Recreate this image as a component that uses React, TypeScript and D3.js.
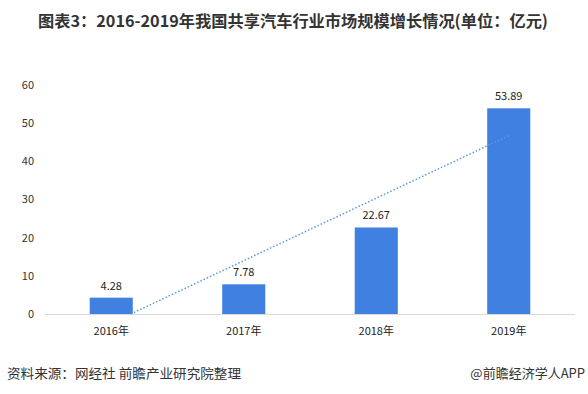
import React from "react";
import * as d3 from "d3";

const categories = ["2016年", "2017年", "2018年", "2019年"];
const values = [4.28, 7.78, 22.67, 53.89];
const yTicks = [0, 10, 20, 30, 40, 50, 60];
const title = "图表3：2016-2019年我国共享汽车行业市场规模增长情况(单位：亿元)";
const source = "资料来源：网经社 前瞻产业研究院整理";
const brand = "@前瞻经济学人APP";

const W = 588, H = 394;
const FONT = "'Noto Sans CJK SC', 'Microsoft YaHei', sans-serif";

export default function App() {
  const left = 45, right = 575, top = 85, bottom = 314;
  const x = d3.scaleBand<string>().domain(categories).range([left, right]).paddingInner(0.675).paddingOuter(0.3375);
  const y = d3.scaleLinear().domain([0, 60]).range([bottom, top]);

  // linear trendline (least squares over index 1..n)
  const n = values.length;
  const xs = values.map((_, i) => i + 1);
  const mx = d3.mean(xs)!, my = d3.mean(values)!;
  const slope = d3.sum(xs.map((xi, i) => (xi - mx) * (values[i] - my))) / d3.sum(xs.map((xi) => (xi - mx) ** 2));
  const icpt = my - slope * mx;
  const cx = (i: number) => x(categories[0])! + x.bandwidth() / 2 + (i - 1) * x.step();
  const t0 = Math.max(1, -icpt / slope);
  const p0 = [cx(t0), y(slope * t0 + icpt)];
  const p1 = [cx(n), y(slope * n + icpt)];

  return (
    <svg width={W} height={H} style={{ position: "absolute", left: 0, top: 0, background: "#fff" }} fontFamily={FONT}>
      <rect width={W} height={H} fill="#fff" />
      <text x={293} y={27} textAnchor="middle" fontSize={16} fontWeight="bold" fill="#333" textLength={510} lengthAdjust="spacingAndGlyphs">{title}</text>
      <line x1={left} x2={right} y1={bottom + 0.5} y2={bottom + 0.5} stroke="#d9d9d9" strokeWidth={1} />
      {yTicks.map((t) => (
        <text key={t} x={34} y={y(t)} dy="0.35em" textAnchor="end" fontSize={11} fill="#333">{t}</text>
      ))}
      {categories.map((c, i) => (
        <g key={c}>
          <rect x={x(c)} y={y(values[i])} width={x.bandwidth()} height={bottom - y(values[i])} fill="#3F80E0" />
          <text x={x(c)! + x.bandwidth() / 2} y={y(values[i]) - 8} textAnchor="middle" fontSize={11} fill="#222">{values[i].toFixed(2)}</text>
          <text x={x(c)! + x.bandwidth() / 2} y={331} dy="0.35em" textAnchor="middle" fontSize={11} fill="#222">{c}</text>
        </g>
      ))}
      <line x1={p0[0]} y1={p0[1]} x2={p1[0]} y2={p1[1]} stroke="#5B9BD5" strokeWidth={1.5} strokeDasharray="1.5 2" />
      <text x={7} y={378} fontSize={13} fill="#333" textLength={234} lengthAdjust="spacingAndGlyphs">{source}</text>
      <text x={585} y={378} textAnchor="end" fontSize={13} fill="#333">{brand}</text>
    </svg>
  );
}
